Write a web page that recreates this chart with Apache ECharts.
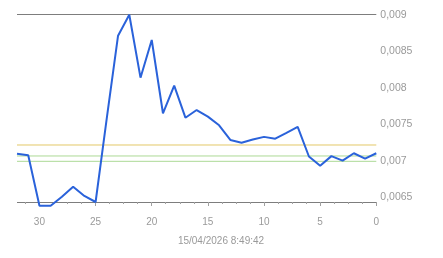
<!DOCTYPE html>
<html>
<head>
<meta charset="utf-8">
<style>
html,body{margin:0;padding:0;background:#fff;}
#chart{width:443px;height:258px;}
</style>
<script src="https://cdn.jsdelivr.net/npm/echarts@6/dist/echarts.min.js"></script>
</head>
<body>
<div id="chart"></div>
<script>
// ---- data ----
const daysAgo = [32,31,30,29,28,27,26,25,24,23,22,21,20,19,18,17,16,15,14,13,12,11,10,9,8,7,6,5,4,3,2,1,0];
const rateValues = [0.007142,0.007121,0.00645,0.00645,0.00657,0.006703,0.00658,0.0065,0.00762,0.008711,0.00899,0.008153,0.008654,0.00768,0.008047,0.007621,0.007723,0.007635,0.00752,0.007325,0.007289,0.00733,0.007366,0.007342,0.00742,0.0075,0.007105,0.006983,0.00711,0.00705,0.007148,0.007076,0.007148];
const yellowLevel = [0.007258];
const greenLevels = [0.007112, 0.007041];
const xTickLabels = [0,5,10,15,20,25,30];
const yTickLabels = [0.0065,0.007,0.0075,0.008,0.0085,0.009];
const dateLabel = '15/04/2026 8:49:42';

const FONT = '"Liberation Sans", Arial, sans-serif';
const TXT = '#9a9a9a';
const R = 66.7;
const X_MIN = 0, X_MAX = 32;

const chart = echarts.init(document.getElementById('chart'), null, {renderer:'canvas'});
const fmtY = v => String(+v.toFixed(5)).replace('.', ',');

const levelSeries = (v, color) => ({
  type: 'line', xAxisIndex: 0, yAxisIndex: 0, silent: true, z: 2,
  showSymbol: false, symbol: 'none', animation: false,
  data: [[X_MAX, v], [X_MIN, v]],
  lineStyle: {color: color, width: 1}
});

chart.setOption({
  animation: false,
  title: {
    text: dateLabel, left: 221, top: 236, textAlign: 'center', padding: 0,
    textStyle: {color: TXT, fontSize: 10, fontWeight: 'normal', fontFamily: FONT}
  },
  grid: [
    {left: 17, right: R, top: 14, bottom: 56, outerBoundsMode: 'none'},
    {left: 17, right: R, top: 15.2, bottom: 60.8, outerBoundsMode: 'none'},
    {left: 376.3 - 31.25 * 11.23, right: R, top: 14, bottom: 56, outerBoundsMode: 'none'},
    {left: 376.3 - 30 * 11.23, right: R, top: 14, bottom: 56, outerBoundsMode: 'none'}
  ],
  xAxis: [
    {gridIndex: 0, type: 'value', inverse: true, min: X_MIN, max: X_MAX, show: true,
     axisLine: {show: false}, axisTick: {show: false}, axisLabel: {show: false}, splitLine: {show: false}},
    {gridIndex: 1, type: 'value', min: 0, max: 1, show: false},
    {gridIndex: 2, type: 'value', inverse: true, min: 0, max: 31.25, interval: 1.25, offset: 9,
     axisLine: {show: false}, axisTick: {show: true, length: 2, lineStyle: {color: '#a0a0a0'}},
     axisLabel: {show: false}, splitLine: {show: false}},
    {gridIndex: 3, type: 'value', inverse: true, min: 0, max: 30, interval: 5, offset: 9,
     axisLine: {show: false}, axisTick: {show: true, length: 4, lineStyle: {color: '#a0a0a0'}},
     axisLabel: {show: true, margin: 6, color: TXT, fontSize: 10, fontFamily: FONT,
       formatter: v => (xTickLabels.indexOf(v) >= 0 ? String(v) : '')},
     splitLine: {show: false}}
  ],
  yAxis: [
    {gridIndex: 0, type: 'value', min: 0.0065, max: 0.009, interval: 0.0005, position: 'right',
     axisLine: {show: false}, axisTick: {show: false}, axisLabel: {show: false},
     splitLine: {show: true, lineStyle: {width: 1, color: ['#7d7d7d','rgba(0,0,0,0)','rgba(0,0,0,0)','rgba(0,0,0,0)','rgba(0,0,0,0)']}}},
    {gridIndex: 1, type: 'value', min: 0.0065, max: 0.009, interval: 0.0005, position: 'right',
     axisLine: {show: false}, axisTick: {show: false}, splitLine: {show: false},
     axisLabel: {show: true, margin: 4, color: TXT, fontSize: 10.5, fontFamily: FONT,
       formatter: v => (yTickLabels.some(t => Math.abs(t - v) < 1e-9) ? fmtY(v) : '')}},
    {gridIndex: 2, type: 'value', show: false},
    {gridIndex: 3, type: 'value', show: false}
  ],
  series: [
    ...yellowLevel.map(v => levelSeries(v, '#e3c868')),
    ...greenLevels.map(v => levelSeries(v, '#acd996')),
    {
      type: 'line', xAxisIndex: 0, yAxisIndex: 0,
      data: daysAgo.map((d, i) => [d, rateValues[i]]),
      showSymbol: false, symbol: 'none', clip: false, silent: true, z: 5,
      lineStyle: {color: '#2a62da', width: 2}
    }
  ]
});
</script>
</body>
</html>
